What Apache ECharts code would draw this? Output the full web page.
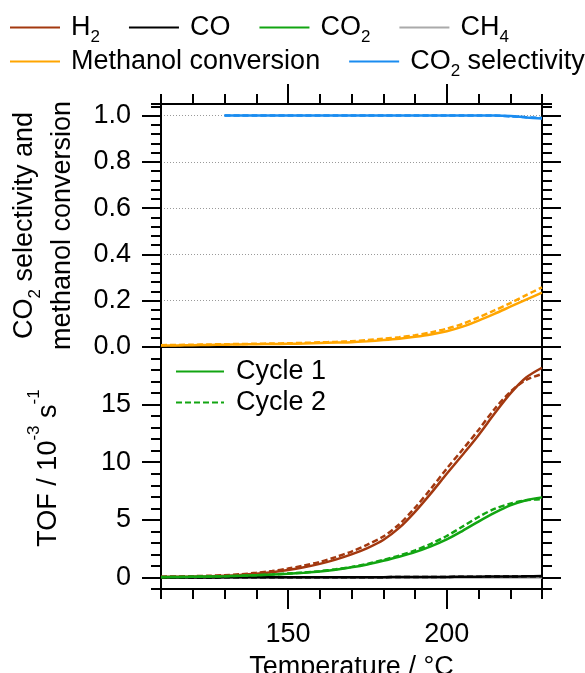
<!DOCTYPE html>
<html><head><meta charset="utf-8">
<script src="https://cdn.jsdelivr.net/npm/echarts@6/dist/echarts.min.js"></script>
<style>html,body{margin:0;padding:0;background:#fff}#c{width:585px;height:673px}</style>
</head><body><div id="c"></div>
<script>
// ---------- data ----------
const temps = [110,115,120,125,130,135,140,145,150,155,160,165,170,175,180,185,190,195,200,205,210,215,220,225,230];
const h2Cycle1 = [0.05,0.06,0.08,0.11,0.15,0.22,0.32,0.46,0.64,0.88,1.18,1.55,2.0,2.55,3.25,4.3,5.7,7.3,9.0,10.65,12.35,14.2,15.95,17.35,18.2];
const h2Cycle2 = [0.07,0.09,0.11,0.15,0.2,0.28,0.4,0.56,0.77,1.03,1.35,1.77,2.25,2.85,3.55,4.6,6.05,7.7,9.45,11.1,12.8,14.6,16.1,17.15,17.65];
const co2Cycle1 = [0.03,0.04,0.06,0.08,0.1,0.14,0.19,0.25,0.32,0.41,0.52,0.68,0.88,1.13,1.45,1.8,2.2,2.7,3.3,4.05,4.85,5.6,6.25,6.7,6.95];
const co2Cycle2 = [0.04,0.05,0.07,0.09,0.11,0.15,0.2,0.26,0.34,0.43,0.55,0.71,0.92,1.18,1.52,1.9,2.35,2.92,3.6,4.42,5.25,5.95,6.4,6.7,6.8];
const coCycle1 = [0,0,0.005,0.005,0.01,0.01,0.01,0.01,0.015,0.015,0.02,0.02,0.025,0.03,0.03,0.035,0.04,0.045,0.05,0.06,0.07,0.08,0.09,0.1,0.12];
const coCycle2 = [0,0,0.005,0.005,0.01,0.01,0.01,0.01,0.015,0.015,0.02,0.02,0.025,0.03,0.03,0.035,0.04,0.045,0.05,0.06,0.07,0.08,0.09,0.1,0.11];
const ch4Cycle1 = [0,0,0,0,0,0,0,0,0,0,0,0,0,0,0,0,0,0,0,0,0,0,0,0,0];
const methConvCycle1 = [0.006,0.007,0.008,0.009,0.01,0.011,0.012,0.013,0.014,0.015,0.017,0.019,0.021,0.025,0.03,0.036,0.044,0.054,0.068,0.088,0.114,0.143,0.174,0.205,0.235];
const methConvCycle2 = [0.008,0.009,0.01,0.011,0.012,0.013,0.014,0.015,0.016,0.018,0.02,0.022,0.025,0.03,0.036,0.042,0.051,0.063,0.079,0.1,0.128,0.158,0.19,0.224,0.258];
const co2SelCycle1 = [null,null,null,null,1,1,1,1,1,1,1,1,1,1,1,1,1,1,1,1,1,1,0.998,0.992,0.987];
const co2SelCycle2 = [null,null,null,null,1,1,1,1,1,1,1,1,1,1,1,1,1,1,1,1,1,1,0.996,0.993,0.99];
const xMajorTicks = [150, 200];
const upperMajorTicks = [0, 0.2, 0.4, 0.6, 0.8, 1.0];
const lowerMajorTicks = [0, 5, 10, 15, 20];
const lowerLabels = [0, 5, 10, 15];

// ---------- styling ----------
const FF = "'Liberation Sans', Arial, sans-serif";
const C = {h2:'#a3380f', co:'#000000', co2:'#12a512', ch4:'#aaaaaa', meth:'#ffa500', sel:'#1a8cf0'};
const LW = 2.5, DASH = [6,3];
const black = {color:'#000', width:2};

function pts(ys){ return temps.map((t,i)=>[t, ys[i]]); }

function xAx(grid, pos, opts){
  return Object.assign({type:'value', gridIndex:grid, position:pos, min:110, max:230,
    axisLine:{show:false, onZero:false, lineStyle:black},
    axisTick:{show:false, lineStyle:black}, axisLabel:{show:false},
    splitLine:{show:false}}, opts);
}
function yAx(grid, pos, min, max, opts){
  return Object.assign({type:'value', gridIndex:grid, position:pos, min:min, max:max,
    axisLine:{show:false, onZero:false, lineStyle:black},
    axisTick:{show:false, lineStyle:black}, axisLabel:{show:false},
    splitLine:{show:false}}, opts);
}

const nameRichUpper = {
  t:{fontSize:27, lineHeight:38, fontFamily:FF, color:'#000'},
  s:{fontSize:17, lineHeight:17, verticalAlign:'bottom', fontFamily:FF, color:'#000'}
};
const nameRichLower = {
  t:{fontSize:27, lineHeight:46, fontFamily:FF, color:'#000'},
  p:{fontSize:17, lineHeight:17, verticalAlign:'top', fontFamily:FF, color:'#000'}
};
const legendRich = {
  f:{fontSize:27, lineHeight:36, padding:[0,0,0,6], fontFamily:FF, color:'#000'},
  t:{fontSize:27, lineHeight:36, fontFamily:FF, color:'#000'},
  s:{fontSize:17, lineHeight:17, verticalAlign:'bottom', fontFamily:FF, color:'#000'}
};
const legendText = {
  'H2':'{f|H}{s|2}', 'CO':'{f|CO}', 'CO2':'{f|CO}{s|2}', 'CH4':'{f|CH}{s|4}',
  'Methanol conversion':'{f|Methanol conversion}', 'CO2 selectivity':'{f|CO}{s|2}{t| selectivity}',
  'Cycle 1':'{c|Cycle 1}', 'Cycle 2':'{c|Cycle 2}'
};

function line(name, ys, color, dashed, upper){
  return {type:'line', name:name, data: ys ? pts(ys) : [],
    xAxisIndex: upper ? 0 : 3, yAxisIndex: upper ? 0 : 4,
    symbol:'none', smooth:0.3, silent:true, connectNulls:false,
    lineStyle:{color:color, width:LW, type: dashed ? DASH : 'solid'},
    itemStyle:{color:color}};
}

const legendBase = {padding:0, itemWidth:50, itemHeight:20, itemGap:28, selectedMode:false,
  itemStyle:{opacity:0}, formatter:n=>legendText[n]};

const option = {
  animation:false,
  textStyle:{fontFamily:FF},
  grid:[
    {left:161, top:104, width:381, height:243, outerBoundsMode:'none', containLabel:false},
    {left:161, top:347, width:381, height:242, outerBoundsMode:'none', containLabel:false}
  ],
  xAxis:[
    xAx(0,'top',{interval:10, axisLine:{show:true,onZero:false,lineStyle:black}, axisTick:{show:true,length:10,lineStyle:black}}),
    xAx(0,'top',{axisTick:{show:true,length:20,customValues:xMajorTicks,lineStyle:black}}),
    xAx(0,'bottom',{axisLine:{show:true,onZero:false,lineStyle:black}}),
    xAx(1,'bottom',{interval:10, axisLine:{show:true,onZero:false,lineStyle:black}, axisTick:{show:true,length:10,lineStyle:black}}),
    xAx(1,'bottom',{axisTick:{show:true,length:20,customValues:xMajorTicks,lineStyle:black},
      axisLabel:{show:true, customValues:xMajorTicks, fontSize:27, margin:32, color:'#000', fontFamily:FF},
      name:'Temperature / °C', nameLocation:'middle', nameGap:65,
      nameTextStyle:{fontSize:27, color:'#000', fontFamily:FF}})
  ],
  yAxis:[
    yAx(0,'left',0,1.05,{interval:0.04, axisLine:{show:true,onZero:false,lineStyle:black}, axisTick:{show:true,length:10,lineStyle:black}}),
    yAx(0,'left',0,1.05,{interval:0.2,
      axisTick:{show:true,length:19,customValues:upperMajorTicks,lineStyle:black},
      axisLabel:{show:true, customValues:upperMajorTicks, formatter:v=>Number(v).toFixed(1), fontSize:27, margin:30, color:'#000', fontFamily:FF},
      splitLine:{show:true, lineStyle:{color:'#9a9a9a', width:1, type:[1,2]}},
      name:'{t|CO}{s|2}{t| selectivity and}\n{t|methanol conversion}', nameLocation:'middle', nameRotate:90, nameGap:79,
      nameTextStyle:{rich:nameRichUpper, fontSize:27, fontFamily:FF, color:'#000'}}),
    yAx(0,'right',0,1.05,{interval:0.04, axisLine:{show:true,onZero:false,lineStyle:black}, axisTick:{show:true,length:10,lineStyle:black}}),
    yAx(0,'right',0,1.05,{axisTick:{show:true,length:19,customValues:upperMajorTicks,lineStyle:black}}),
    yAx(1,'left',-1,20,{interval:1, axisLine:{show:true,onZero:false,lineStyle:black}, axisTick:{show:true,length:10,lineStyle:black}}),
    yAx(1,'left',-1,20,{
      axisTick:{show:true,length:19,customValues:lowerMajorTicks,lineStyle:black},
      axisLabel:{show:true, customValues:lowerLabels, fontSize:27, margin:30, color:'#000', fontFamily:FF},
      name:'{t|TOF / 10}{p|-3}{t| s}{p|-1}', nameLocation:'middle', nameRotate:90, nameGap:89,
      nameTextStyle:{rich:nameRichLower, fontSize:27, fontFamily:FF, color:'#000'}}),
    yAx(1,'right',-1,20,{interval:1, axisLine:{show:true,onZero:false,lineStyle:black}, axisTick:{show:true,length:10,lineStyle:black}}),
    yAx(1,'right',-1,20,{axisTick:{show:true,length:19,customValues:lowerMajorTicks,lineStyle:black}})
  ],
  legend:[
    Object.assign({}, legendBase, {data:['H2','CO','CO2','CH4'], left:9, top:14,
      textStyle:{rich:legendRich, fontSize:27, fontFamily:FF}}),
    Object.assign({}, legendBase, {data:['Methanol conversion','CO2 selectivity'], left:9, top:48,
      textStyle:{rich:legendRich, fontSize:27, fontFamily:FF}}),
    Object.assign({}, legendBase, {data:['Cycle 1','Cycle 2'], orient:'vertical', left:175, top:358, itemWidth:48, itemGap:4,
      textStyle:{rich:{c:{fontSize:27, lineHeight:30, padding:[0,0,0,7], fontFamily:FF, color:'#000'}}, fontSize:27, fontFamily:FF}})
  ],
  series:[
    line('CH4', ch4Cycle1, C.ch4, false, false),
    line('CO (cycle 2)', coCycle2, C.co, true, false),
    line('CO', coCycle1, C.co, false, false),
    line('H2', h2Cycle1, C.h2, false, false),
    line('H2 (cycle 2)', h2Cycle2, C.h2, true, false),
    line('CO2', co2Cycle1, C.co2, false, false),
    line('CO2 (cycle 2)', co2Cycle2, C.co2, true, false),
    line('Methanol conversion', methConvCycle1, C.meth, false, true),
    line('Methanol conversion (cycle 2)', methConvCycle2, C.meth, true, true),
    line('CO2 selectivity', co2SelCycle1, C.sel, false, true),
    line('CO2 selectivity (cycle 2)', co2SelCycle2, C.sel, true, true),
    line('Cycle 1', null, C.co2, false, false),
    line('Cycle 2', null, C.co2, true, false)
  ]
};
const chart = echarts.init(document.getElementById('c'), null, {renderer:'canvas'});
chart.setOption(option);
</script>
</body></html>
